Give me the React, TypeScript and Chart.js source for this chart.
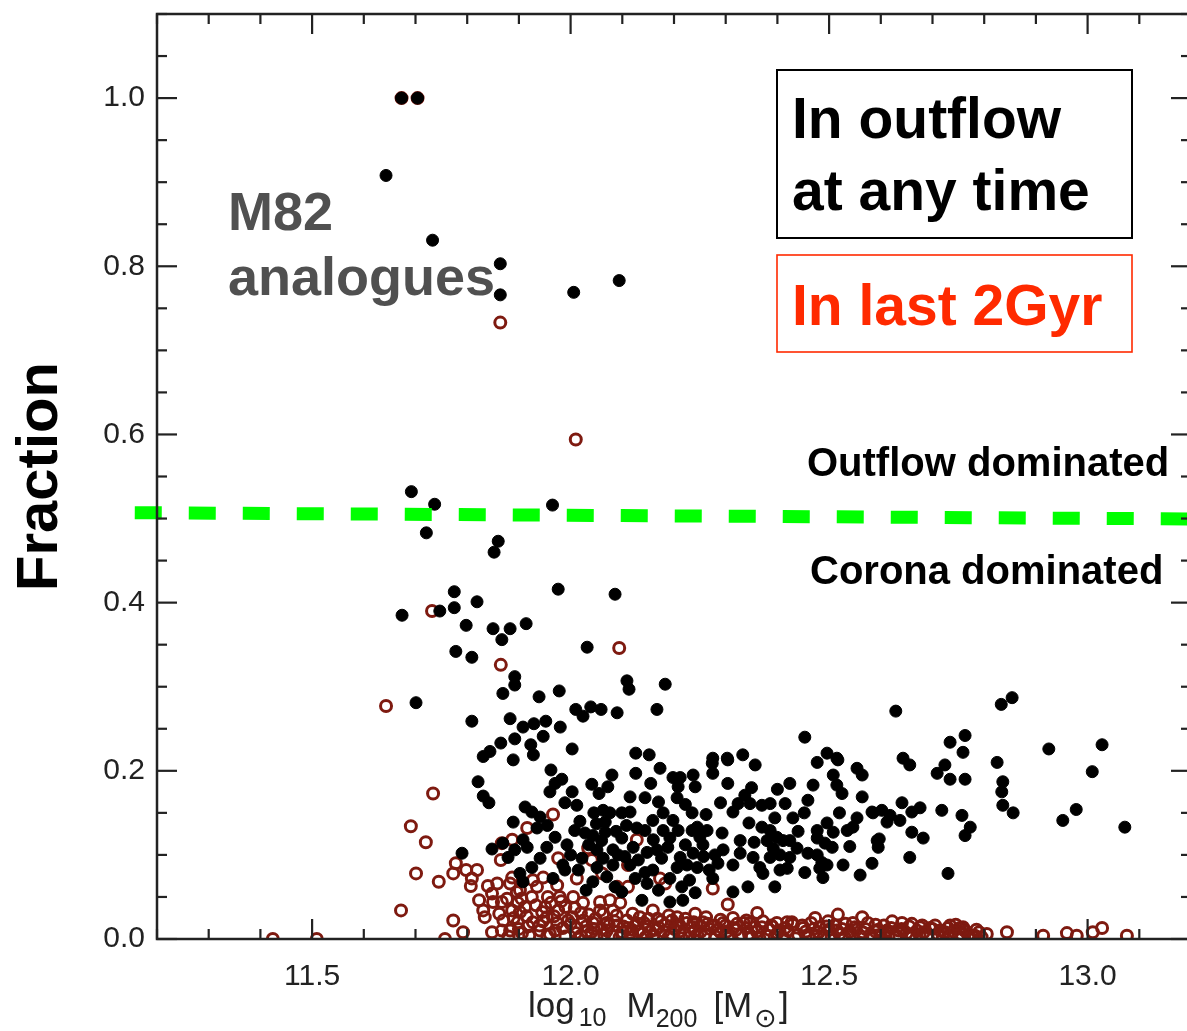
import React, { useEffect, useRef } from 'react';
import { Chart, registerables } from 'chart.js';

Chart.register(...registerables);

const FONT = '"Liberation Sans", Arial, Helvetica, sans-serif';

const X_TICKS = [11.5, 12.0, 12.5, 13.0];
const Y_TICKS = [0.0, 0.2, 0.4, 0.6, 0.8, 1.0];
const X_MIN = 11.2;
const X_MAX = 13.2;
const Y_MIN = 0;
const Y_MAX = 1.1;

// Black filled dots: fraction in outflow at any time
const anyTime: [number, number][] = [
  [11.673, 1.0], [11.704, 1.0], [11.643, 0.908], [11.733, 0.831], [11.864, 0.803], [11.864, 0.766], [12.006, 0.769], [12.094, 0.783],
  [11.692, 0.532], [11.737, 0.517], [11.721, 0.483], [11.965, 0.516], [11.860, 0.473], [11.852, 0.460],
  [11.674, 0.385], [11.747, 0.390], [11.775, 0.413], [11.775, 0.394], [11.819, 0.401], [11.798, 0.373], [11.778, 0.342], [11.809, 0.335],
  [11.850, 0.369], [11.867, 0.356], [11.883, 0.369], [11.914, 0.375], [11.976, 0.416], [12.086, 0.410], [12.032, 0.347],
  [11.892, 0.312], [11.892, 0.302], [11.869, 0.292], [11.939, 0.288], [11.978, 0.295], [12.109, 0.307], [12.113, 0.297], [12.183, 0.303],
  [11.701, 0.281], [12.010, 0.273], [12.039, 0.276], [12.059, 0.273], [12.024, 0.265], [12.090, 0.269], [12.167, 0.273],
  [11.809, 0.259], [11.883, 0.262], [11.908, 0.252], [11.929, 0.256], [11.952, 0.259], [11.980, 0.252], [11.947, 0.241], [11.892, 0.238],
  [11.865, 0.233], [11.923, 0.231], [12.003, 0.226], [11.844, 0.223], [11.831, 0.217], [11.889, 0.213], [11.928, 0.219], [12.126, 0.221], [12.152, 0.219],
  [11.821, 0.187], [11.831, 0.170], [11.842, 0.162], [11.912, 0.157], [11.962, 0.201], [11.983, 0.190], [11.970, 0.185], [12.041, 0.184],
  [12.080, 0.195], [12.072, 0.181], [12.126, 0.197], [12.155, 0.185], [12.173, 0.203], [12.198, 0.192], [12.212, 0.192], [12.237, 0.195],
  [12.208, 0.181], [12.241, 0.181],
  [11.960, 0.175], [12.003, 0.175], [11.989, 0.162], [12.012, 0.159], [12.055, 0.173], [12.115, 0.169], [12.144, 0.168], [12.206, 0.168],
  [11.925, 0.151], [11.941, 0.145], [11.935, 0.132], [11.889, 0.139], [12.063, 0.153], [12.076, 0.150], [12.099, 0.150], [12.115, 0.151],
  [12.067, 0.139], [12.159, 0.141], [12.179, 0.150], [12.198, 0.141], [12.235, 0.150],
  [12.008, 0.129], [12.028, 0.126], [12.043, 0.123], [12.067, 0.127], [12.099, 0.120], [12.128, 0.132], [12.144, 0.129], [12.179, 0.129],
  [12.208, 0.129], [12.235, 0.129],
  [11.970, 0.121], [11.993, 0.112], [11.954, 0.109], [11.908, 0.118], [11.916, 0.109], [11.892, 0.106], [11.848, 0.107], [11.879, 0.097],
  [11.790, 0.102], [11.941, 0.096], [11.985, 0.088], [12.022, 0.096], [12.051, 0.106], [12.063, 0.096], [12.082, 0.106], [12.092, 0.100],
  [12.121, 0.109], [12.148, 0.103], [12.167, 0.106], [12.188, 0.109], [12.212, 0.097], [12.237, 0.102],
  [12.051, 0.085], [12.082, 0.088], [12.115, 0.088], [12.144, 0.079], [12.159, 0.082], [12.206, 0.085], [12.225, 0.088], [12.245, 0.085],
  [11.908, 0.068], [11.966, 0.072], [11.989, 0.082], [12.043, 0.068], [12.086, 0.062], [12.148, 0.066], [12.192, 0.072], [12.215, 0.062],
  [12.241, 0.055], [12.099, 0.056], [12.138, 0.046], [12.192, 0.044], [12.217, 0.046], [11.902, 0.078], [11.869, 0.114],
  [12.018, 0.140], [12.035, 0.112], [12.050, 0.137], [12.088, 0.128], [12.105, 0.098], [12.131, 0.094], [12.160, 0.118], [12.176, 0.096],
  [12.192, 0.120], [12.222, 0.112], [12.015, 0.082], [12.030, 0.058], [12.070, 0.074], [12.125, 0.072], [12.170, 0.058], [12.230, 0.070],
  [11.955, 0.135], [12.000, 0.100], [12.045, 0.150], [12.108, 0.135], [12.170, 0.163], [12.222, 0.160], [11.925, 0.085], [12.060, 0.117],
  [12.257, 0.098], [12.262, 0.148], [12.290, 0.162], [12.268, 0.082],
  [12.629, 0.271], [12.453, 0.240], [12.734, 0.234], [12.763, 0.242], [12.759, 0.222], [12.496, 0.221], [12.333, 0.219], [12.275, 0.215],
  [12.303, 0.215], [12.643, 0.215], [12.515, 0.215], [12.274, 0.209], [12.304, 0.213], [12.357, 0.207], [12.275, 0.197], [12.304, 0.185],
  [12.477, 0.210], [12.517, 0.213], [12.508, 0.195], [12.515, 0.183], [12.525, 0.173], [12.554, 0.203], [12.564, 0.195], [12.564, 0.169],
  [12.656, 0.207], [12.709, 0.197], [12.724, 0.207], [12.734, 0.190], [12.763, 0.190],
  [12.424, 0.185], [12.469, 0.183], [12.459, 0.165], [12.415, 0.161], [12.337, 0.171], [12.324, 0.161], [12.347, 0.161], [12.370, 0.159],
  [12.386, 0.161], [12.314, 0.151], [12.430, 0.144], [12.395, 0.144], [12.583, 0.151], [12.602, 0.153], [12.618, 0.147], [12.641, 0.162],
  [12.660, 0.151], [12.676, 0.156], [12.718, 0.153], [12.757, 0.147], [12.554, 0.144],
  [12.535, 0.129], [12.496, 0.138], [12.477, 0.129], [12.508, 0.127], [12.612, 0.139], [12.637, 0.141], [12.660, 0.127], [12.682, 0.120],
  [12.773, 0.133], [12.763, 0.123], [12.245, 0.133], [12.264, 0.129], [12.250, 0.121], [12.256, 0.112], [12.293, 0.126], [12.370, 0.133],
  [12.386, 0.129], [12.399, 0.121], [12.411, 0.117], [12.424, 0.117], [12.438, 0.108], [12.380, 0.117], [12.328, 0.117], [12.477, 0.120],
  [12.492, 0.114], [12.506, 0.109], [12.593, 0.117], [12.595, 0.109],
  [12.295, 0.106], [12.279, 0.100], [12.328, 0.102], [12.353, 0.097], [12.392, 0.108], [12.386, 0.097], [12.405, 0.100], [12.424, 0.097],
  [12.459, 0.102], [12.477, 0.100], [12.486, 0.091], [12.496, 0.088], [12.482, 0.084], [12.656, 0.097], [12.314, 0.088], [12.285, 0.090],
  [12.366, 0.085], [12.372, 0.078], [12.405, 0.082], [12.419, 0.084], [12.453, 0.079], [12.488, 0.073], [12.527, 0.088], [12.583, 0.090],
  [12.560, 0.076], [12.275, 0.072], [12.395, 0.062], [12.343, 0.062], [12.314, 0.056], [12.730, 0.078],
  [12.345, 0.138], [12.355, 0.115], [12.440, 0.128], [12.452, 0.150], [12.540, 0.110], [12.520, 0.150], [12.350, 0.180], [12.400, 0.178],
  [12.833, 0.279], [12.854, 0.287], [12.925, 0.226], [13.028, 0.231], [13.009, 0.199], [12.825, 0.210], [12.836, 0.187], [12.834, 0.175],
  [12.836, 0.159], [12.856, 0.150], [12.585, 0.150], [12.546, 0.133], [12.597, 0.119], [12.952, 0.141], [12.978, 0.154], [13.072, 0.133],
];

// Dark red open circles: fraction in outflow in the last 2 Gyr
const last2Gyr: [number, number][] = [
  [11.673, 1.0], [11.704, 1.0], [11.864, 0.733], [12.010, 0.594], [11.732, 0.390], [11.865, 0.326], [12.094, 0.346], [11.643, 0.277],
  [11.734, 0.173], [11.691, 0.134], [11.720, 0.115], [11.701, 0.078], [11.745, 0.068], [11.672, 0.034], [11.773, 0.022], [11.792, 0.008],
  [11.778, 0.090], [11.773, 0.078], [11.798, 0.082], [11.819, 0.082], [11.809, 0.072], [11.807, 0.063], [11.840, 0.063], [11.858, 0.066],
  [11.823, 0.046], [11.831, 0.034], [11.834, 0.026], [11.850, 0.044], [11.867, 0.044], [11.848, 0.054], [11.865, 0.094], [11.867, 0.114],
  [11.887, 0.118], [11.916, 0.132], [11.887, 0.073], [11.896, 0.056], [11.887, 0.034], [11.902, 0.032], [11.898, 0.020], [11.848, 0.008],
  [11.867, 0.010], [11.883, 0.010], [11.757, 0.0], [11.424, 0.0], [11.509, 0.0], [11.966, 0.148], [11.976, 0.096], [12.034, 0.108],
  [12.041, 0.094], [12.061, 0.078], [12.111, 0.088], [12.128, 0.118], [12.012, 0.072], [12.111, 0.062], [12.090, 0.062], [12.173, 0.072],
  [12.183, 0.066], [12.241, 0.030], [11.883, 0.066], [11.902, 0.058], [11.927, 0.070], [11.947, 0.073], [11.935, 0.062], [11.974, 0.064],
  [11.979, 0.050], [11.956, 0.050], [11.925, 0.050], [11.898, 0.043], [11.912, 0.038], [11.951, 0.038], [11.976, 0.034], [12.005, 0.050],
  [12.003, 0.026], [12.024, 0.043], [12.057, 0.044], [12.076, 0.046], [12.057, 0.034], [12.082, 0.034], [12.096, 0.043], [11.927, 0.020],
  [11.954, 0.026], [11.974, 0.019], [11.906, 0.007], [11.941, 0.010], [12.012, 0.013], [12.043, 0.019], [12.070, 0.019], [12.109, 0.022],
  [12.134, 0.026], [12.159, 0.034], [12.206, 0.026], [12.225, 0.019], [12.275, 0.060], [12.304, 0.041], [12.256, 0.020], [12.314, 0.025],
  [12.361, 0.031], [12.347, 0.019], [12.295, 0.019], [12.473, 0.025], [12.517, 0.029], [12.564, 0.026], [12.546, 0.019], [12.641, 0.019],
  [12.676, 0.014], [12.734, 0.016], [12.759, 0.014], [12.399, 0.019], [12.419, 0.020], [12.612, 0.010], [12.753, 0.013], [12.844, 0.008],
  [12.914, 0.004], [12.960, 0.007], [13.010, 0.008], [13.028, 0.013], [13.076, 0.004], [12.979, 0.004],
  [12.02, 0.004], [12.04, 0.008], [12.05, 0.003], [12.07, 0.010], [12.08, 0.004], [12.10, 0.008], [12.11, 0.013], [12.12, 0.003],
  [12.14, 0.007], [12.15, 0.015], [12.16, 0.004], [12.18, 0.009], [12.19, 0.003], [12.20, 0.012], [12.22, 0.006], [12.23, 0.002],
  [12.24, 0.010], [12.26, 0.005], [12.27, 0.012], [12.28, 0.003], [12.29, 0.008], [12.31, 0.004], [12.32, 0.011], [12.33, 0.006],
  [12.35, 0.003], [12.36, 0.009], [12.37, 0.014], [12.38, 0.004], [12.40, 0.007], [12.41, 0.002], [12.42, 0.010], [12.44, 0.005],
  [12.45, 0.013], [12.46, 0.003], [12.48, 0.008], [12.49, 0.004], [12.50, 0.011], [12.52, 0.006], [12.53, 0.002], [12.54, 0.009],
  [12.56, 0.004], [12.57, 0.012], [12.58, 0.005], [12.60, 0.003], [12.61, 0.008], [12.62, 0.013], [12.63, 0.004], [12.65, 0.007],
  [12.66, 0.002], [12.67, 0.010], [12.69, 0.004], [12.70, 0.012], [12.71, 0.006], [12.72, 0.002], [12.74, 0.009], [12.75, 0.004],
  [12.76, 0.011], [12.77, 0.005], [12.78, 0.002], [12.79, 0.008], [11.88, 0.003], [11.90, 0.012], [11.92, 0.004], [11.94, 0.016],
  [11.96, 0.006], [11.97, 0.010], [11.99, 0.003], [12.00, 0.018], [12.01, 0.007], [12.03, 0.015], [12.06, 0.012], [12.09, 0.016],
  [12.13, 0.018], [12.17, 0.014], [12.21, 0.017], [12.25, 0.015], [12.30, 0.016], [12.34, 0.013], [12.39, 0.015], [12.43, 0.017],
  [12.47, 0.012], [12.51, 0.016], [12.55, 0.014], [12.59, 0.017], [12.64, 0.012], [12.68, 0.016], [12.73, 0.013],
  [11.955, 0.004], [11.985, 0.013], [12.015, 0.001], [12.025, 0.022], [12.045, 0.012], [12.065, 0.005], [12.085, 0.021], [12.095, 0.002],
  [12.115, 0.007], [12.125, 0.016], [12.145, 0.002], [12.165, 0.011], [12.175, 0.021], [12.195, 0.006], [12.205, 0.017], [12.215, 0.001],
  [12.235, 0.014], [12.245, 0.005], [12.265, 0.018], [12.285, 0.011], [12.305, 0.001], [12.315, 0.013], [12.335, 0.019], [12.345, 0.006],
  [12.365, 0.001], [12.385, 0.011], [12.395, 0.003], [12.415, 0.013], [12.435, 0.001], [12.455, 0.009], [12.475, 0.004], [12.495, 0.015],
  [12.505, 0.002], [12.525, 0.012], [12.545, 0.004], [12.565, 0.008], [12.585, 0.001], [12.595, 0.011], [12.615, 0.003], [12.635, 0.010],
  [12.655, 0.015], [12.675, 0.005], [12.695, 0.013], [12.715, 0.010], [12.735, 0.003], [12.755, 0.006], [12.770, 0.001], [12.785, 0.011],
  [11.915, 0.027], [11.945, 0.032], [11.990, 0.038], [12.035, 0.029], [12.120, 0.030], [12.150, 0.024], [12.190, 0.028], [11.870, 0.022],
  [11.862, 0.030], [11.877, 0.048], [11.890, 0.025], [11.905, 0.048], [11.918, 0.015], [11.933, 0.040], [11.946, 0.021], [11.962, 0.043],
  [11.968, 0.027], [11.982, 0.045], [11.995, 0.022], [12.008, 0.037], [12.020, 0.031], [12.032, 0.009], [12.048, 0.024], [12.063, 0.030],
  [12.074, 0.016], [12.089, 0.028], [12.102, 0.015], [12.118, 0.011], [12.131, 0.009], [12.142, 0.019], [12.154, 0.009], [12.168, 0.024],
  [12.182, 0.017], [12.196, 0.022], [12.210, 0.009], [12.222, 0.024], [12.238, 0.020], [12.252, 0.009], [12.262, 0.026], [12.278, 0.016],
  [12.290, 0.023], [12.302, 0.009], [12.322, 0.018], [12.340, 0.022], [12.356, 0.014], [12.372, 0.021], [12.388, 0.016], [12.404, 0.010],
  [12.428, 0.020], [12.448, 0.016], [12.465, 0.019], [12.482, 0.014], [12.498, 0.021], [12.515, 0.010], [12.532, 0.018], [12.552, 0.011],
  [12.575, 0.019], [12.590, 0.009], [12.606, 0.016], [12.622, 0.021], [12.643, 0.010], [12.660, 0.018], [12.683, 0.008], [12.705, 0.016],
  [12.724, 0.008], [12.745, 0.017], [12.765, 0.009], [12.782, 0.004], [12.795, 0.002], [12.805, 0.006],
];

// Dividing line between outflow- and corona-dominated regimes
const dividerLine: [number, number][] = [[11.157, 0.507], [13.2, 0.4995]];

const decorPlugin = {
  id: 'decor',
  afterDraw(chart: any) {
    const { ctx, chartArea, scales } = chart;
    const { left, right, top, bottom } = chartArea;
    const xs = scales.x;
    const ys = scales.y;
    ctx.save();
    // Frame
    ctx.strokeStyle = '#222';
    ctx.lineWidth = 2.5;
    ctx.strokeRect(left, top, right - left, bottom - top);
    // Inward ticks
    ctx.lineWidth = 2.2;
    const seg = (x1: number, y1: number, x2: number, y2: number) => {
      ctx.beginPath();
      ctx.moveTo(x1, y1);
      ctx.lineTo(x2, y2);
      ctx.stroke();
    };
    for (let i = 0; i <= 20; i++) {
      const v = X_MIN + i * 0.1;
      const major = Math.abs(v * 2 - Math.round(v * 2)) < 1e-6;
      const px = xs.getPixelForValue(v);
      const len = major ? 20 : 10;
      seg(px, bottom, px, bottom - len);
      seg(px, top, px, top + len);
    }
    for (let i = 0; i <= 22; i++) {
      const v = i * 0.05;
      const major = i % 4 === 0;
      const py = ys.getPixelForValue(v);
      const len = major ? 20 : 10;
      seg(left, py, left + len, py);
      seg(right, py, right - len, py);
    }

    // x-axis title with subscripts, drawn piece by piece
    ctx.fillStyle = '#222';
    ctx.textBaseline = 'alphabetic';
    ctx.textAlign = 'left';
    const main = `35px ${FONT}`;
    const sub = `25px ${FONT}`;
    let cx = 528;
    const piece = (t: string, font: string, base: number, gapAfter: number) => {
      ctx.font = font;
      ctx.fillText(t, cx, base);
      cx += ctx.measureText(t).width + gapAfter;
    };
    piece('log', main, 1017, 4);
    piece('10', sub, 1026, 20);
    piece('M', main, 1017, 0);
    piece('200', sub, 1027, 16);
    piece('[M', main, 1017, 2);
    piece('\u2299', `27px "DejaVu Sans", ${FONT}`, 1027, 2);
    piece(']', main, 1017, 0);

    // M82 annotation
    ctx.fillStyle = '#505050';
    ctx.font = `bold 54px ${FONT}`;
    ctx.fillText('M82', 228, 230);
    ctx.fillText('analogues', 228, 295);

    // Legend boxes
    ctx.strokeStyle = '#000';
    ctx.lineWidth = 2;
    ctx.strokeRect(777, 70, 355, 168);
    ctx.fillStyle = '#000';
    ctx.font = `bold 57px ${FONT}`;
    ctx.fillText('In outflow', 792, 138);
    ctx.fillText('at any time', 792, 210);

    ctx.strokeStyle = '#ff2a00';
    ctx.lineWidth = 1.6;
    ctx.strokeRect(777, 255, 355, 97);
    ctx.fillStyle = '#ff2a00';
    ctx.fillText('In last 2Gyr', 792, 325);

    // Regime labels
    ctx.fillStyle = '#000';
    ctx.font = `bold 40px ${FONT}`;
    ctx.fillText('Outflow dominated', 807, 476);
    ctx.fillText('Corona dominated', 810, 584);
    ctx.restore();
  },
};

export default function App() {
  const canvasRef = useRef<HTMLCanvasElement | null>(null);

  useEffect(() => {
    const canvas = canvasRef.current;
    if (!canvas) return;
    const chart = new Chart(canvas, {
      type: 'scatter',
      data: {
        datasets: [
          {
            label: 'divider',
            data: dividerLine.map(([x, y]) => ({ x, y })),
            showLine: true,
            borderColor: '#00ff00',
            backgroundColor: '#00ff00',
            borderWidth: 13,
            borderDash: [27, 27],
            borderCapStyle: 'butt',
            pointRadius: 0,
            clip: false,
          } as any,
          {
            label: 'In outflow at any time',
            data: anyTime.map(([x, y]) => ({ x, y })),
            backgroundColor: '#000000',
            borderColor: '#000000',
            borderWidth: 1,
            pointRadius: 6,
            clip: 0,
          } as any,
          {
            label: 'In last 2Gyr',
            data: last2Gyr.map(([x, y]) => ({ x, y })),
            backgroundColor: 'rgba(0,0,0,0)',
            borderColor: '#7e1a10',
            borderWidth: 3,
            pointRadius: 5.5,
            clip: 0,
          } as any,
        ],
      },
      options: {
        animation: false,
        responsive: false,
        events: [],
        layout: { padding: { top: 14, right: 9, left: 0, bottom: 0 } },
        plugins: {
          legend: { display: false },
          tooltip: { enabled: false },
        },
        scales: {
          x: {
            type: 'linear',
            min: X_MIN,
            max: X_MAX,
            afterBuildTicks: (s: any) => {
              s.ticks = X_TICKS.map((v) => ({ value: v }));
            },
            afterFit: (s: any) => {
              s.height = 92;
              s.paddingLeft = 0;
              s.paddingRight = 0;
            },
            grid: { display: false, drawTicks: false },
            border: { display: false },
            ticks: {
              padding: 20,
              color: '#222',
              font: { size: 30, family: FONT },
              maxRotation: 0,
              autoSkip: false,
              callback: (v: any) => Number(v).toFixed(1),
            },
          },
          y: {
            type: 'linear',
            min: Y_MIN,
            max: Y_MAX,
            afterBuildTicks: (s: any) => {
              s.ticks = Y_TICKS.map((v) => ({ value: v }));
            },
            afterFit: (s: any) => {
              s.width = 157;
              s.paddingTop = 0;
              s.paddingBottom = 0;
            },
            grid: { display: false, drawTicks: false },
            border: { display: false },
            ticks: {
              padding: 12,
              color: '#222',
              font: { size: 30, family: FONT },
              autoSkip: false,
              callback: (v: any) => Number(v).toFixed(1),
            },
            title: {
              display: true,
              text: 'Fraction',
              color: '#000',
              font: { size: 58, weight: 'bold', family: FONT },
              padding: { top: 6, bottom: 0 },
            },
          },
        },
      } as any,
      plugins: [decorPlugin],
    });
    return () => chart.destroy();
  }, []);

  return (
    <div
      style={{
        position: 'absolute',
        left: 0,
        top: 0,
        width: 1187,
        height: 1031,
        overflow: 'hidden',
        background: '#fff',
      }}
    >
      <canvas ref={canvasRef} width={1200} height={1031} style={{ width: 1200, height: 1031, display: 'block' }} />
    </div>
  );
}
